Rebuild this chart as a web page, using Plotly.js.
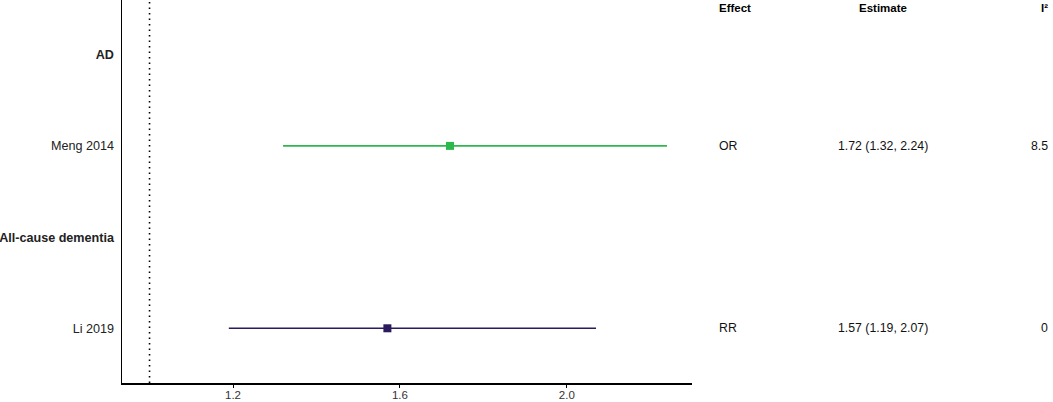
<!DOCTYPE html>
<html>
<head>
<meta charset="utf-8">
<script src="https://cdn.plot.ly/plotly-3.0.1.min.js"></script>
<style>html,body{margin:0;padding:0;background:#fff;}#chart{width:1053px;height:402px;}</style>
</head>
<body>
<div id="chart"></div>
<script>
// Data
const groups = ["AD", "All-cause dementia"];
const studies = ["Meng 2014", "Li 2019"];
const estimates = [1.72, 1.57];
const lower = [1.32, 1.19];
const upper = [2.24, 2.07];
const effects = ["OR", "RR"];
const i2 = ["8.5", "0"];
const colors = ["#2db84d", "#2b1b5c"];
const xTicks = [1.2, 1.6, 2.0];
const xTickLabels = ["1.2", "1.6", "2.0"];
const headers = ["Effect", "Estimate", "I²"];

// Row layout: each group followed by its study, top to bottom
const nRows = groups.length * 2;
const groupRow = groups.map((g, i) => nRows - 2 * i);
const studyRow = studies.map((s, i) => nRows - 2 * i - 1);

const font = "Liberation Sans, Arial, sans-serif";
const traces = studies.map((s, i) => ({
  type: "scatter", mode: "markers",
  x: [estimates[i]], y: [studyRow[i]],
  marker: {symbol: "square", size: 8, color: colors[i]},
  error_x: {type: "data", symmetric: false,
    array: [upper[i] - estimates[i]], arrayminus: [estimates[i] - lower[i]],
    color: colors[i], thickness: 1.6, width: 0},
  showlegend: false, hoverinfo: "skip"
}));

const tickvals = [], ticktext = [];
groups.forEach((g, i) => { tickvals.push(groupRow[i]); ticktext.push("<b>" + g + "</b>"); });
studies.forEach((s, i) => { tickvals.push(studyRow[i]); ticktext.push(s); });

const annotations = [];
const colX = [0.681, 0.8385, 0.997];
const colAnchor = ["left", "center", "right"];
headers.forEach((h, j) => annotations.push({
  xref: "paper", yref: "y", x: colX[j], y: nRows + 0.51, text: "<b>" + h + "</b>",
  showarrow: false, xanchor: colAnchor[j], yanchor: "middle",
  font: {family: font, size: 11.5, color: "#000"}
}));
studies.forEach((s, i) => {
  const est = estimates[i].toFixed(2) + " (" + lower[i].toFixed(2) + ", " + upper[i].toFixed(2) + ")";
  [effects[i], est, i2[i]].forEach((t, j) => annotations.push({
    xref: "paper", yref: "y", x: colX[j], y: studyRow[i], text: t,
    showarrow: false, xanchor: colAnchor[j], yanchor: "middle",
    font: {family: font, size: 12.3, color: "#111"}
  }));
});

const layout = {
  width: 1053, height: 402,
  margin: {l: 0, r: 0, t: 0, b: 19},
  paper_bgcolor: "#fff", plot_bgcolor: "#fff",
  font: {family: font, size: 12, color: "#333"},
  xaxis: {
    domain: [122 / 1053, 692 / 1053], range: [0.934, 2.30],
    tickvals: xTicks, ticktext: xTickLabels,
    ticks: "outside", ticklen: 3, tickcolor: "#000", tickwidth: 1,
    showline: true, linecolor: "#000", linewidth: 1.5,
    showgrid: false, zeroline: false, automargin: false, ticklabelstandoff: -2,
    tickfont: {family: font, size: 11.5, color: "#333"}
  },
  yaxis: {
    range: [0.4, nRows + 0.6], tickvals: tickvals, ticktext: ticktext,
    ticks: "", showline: true, linecolor: "#000", linewidth: 1.5,
    showgrid: false, zeroline: false, automargin: false, ticklabelstandoff: 4,
    tickfont: {family: font, size: 12.6, color: "#222"}
  },
  shapes: [{type: "line", xref: "x", yref: "paper", x0: 1, x1: 1, y0: 0, y1: 1,
    line: {color: "#000", width: 1.6, dash: "1.5px,4px"}}],
  annotations: annotations
};

Plotly.newPlot("chart", traces, layout, {staticPlot: true, displayModeBar: false});
</script>
</body>
</html>
